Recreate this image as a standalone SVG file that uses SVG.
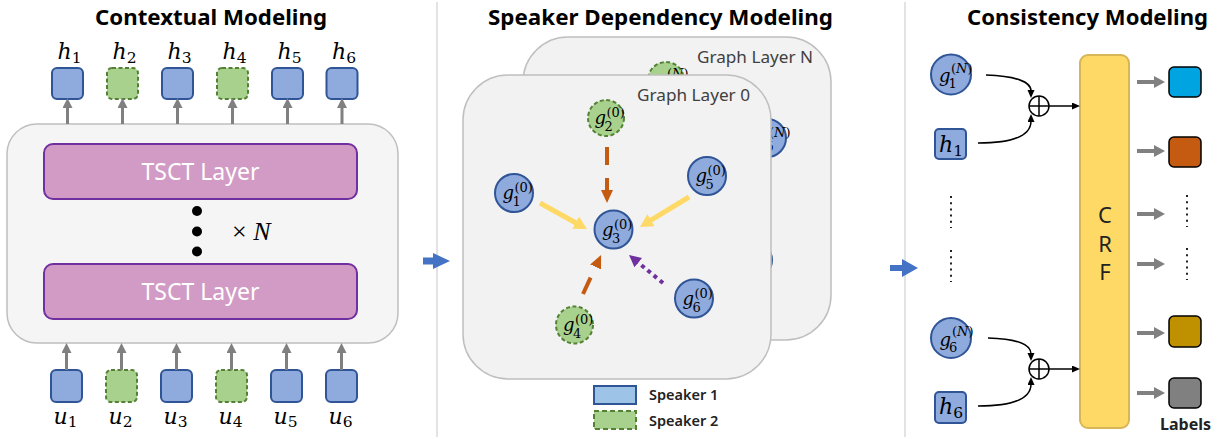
<svg xmlns="http://www.w3.org/2000/svg" width="1222" height="439" viewBox="0 0 1222 439">
<style>
.title{font-family:"Noto Sans","Liberation Sans",sans-serif;font-weight:bold;font-size:21px;fill:#000;text-anchor:middle}
.math{font-family:"DejaVu Serif","Liberation Serif",serif;fill:#000}
.it{font-style:italic}
.blue{fill:#8faadc;stroke:#2f5597;stroke-width:2}
.green{fill:#a9d18e;stroke:#548235;stroke-width:2;stroke-dasharray:4 2.5}
.tsct{fill:#d29bc5;stroke:#7030a0;stroke-width:2}
.tsctt{font-family:"Noto Sans","Liberation Sans",sans-serif;font-size:23px;fill:#fff;text-anchor:middle}
.card{fill:#f2f2f2;stroke:#bfbfbf;stroke-width:1.5}
.cardt{font-family:"Noto Sans","Liberation Sans",sans-serif;font-size:17px;fill:#404040}
.gray{stroke:#808080;stroke-width:3;fill:none}
.div{stroke:#e3e3e3;stroke-width:2}
.leg{font-family:"Noto Sans","Liberation Sans",sans-serif;font-size:14.5px;font-weight:600;fill:#222}
.dots{stroke:#222;stroke-width:2;stroke-dasharray:2 4.2}
.blk{stroke:#000;stroke-width:1.5;fill:none}
.out{stroke:#000;stroke-width:1.5}
.gl{font-size:18px;font-style:italic}
.gs{font-size:13px}
.hl{font-size:22px}
.hs{font-size:15.5px}
</style>
<defs>
<marker id="mGray" markerUnits="userSpaceOnUse" markerWidth="12" markerHeight="12" refX="1" refY="5" orient="auto"><path d="M0,0 L10,5 L0,10 z" fill="#808080"/></marker>
<marker id="mGray2" markerUnits="userSpaceOnUse" markerWidth="13" markerHeight="14" refX="1" refY="6" orient="auto"><path d="M0,0 L11,6 L0,12 z" fill="#808080"/></marker>
<marker id="mYel" markerUnits="userSpaceOnUse" markerWidth="14" markerHeight="15" refX="1" refY="7" orient="auto"><path d="M0,0 L13,7 L0,14 z" fill="#ffd966"/></marker>
<marker id="mOr" markerUnits="userSpaceOnUse" markerWidth="14" markerHeight="13" refX="1" refY="6" orient="auto"><path d="M0,0 L13,6 L0,12 z" fill="#c55a11"/></marker>
<marker id="mPur" markerUnits="userSpaceOnUse" markerWidth="13" markerHeight="13" refX="1" refY="6" orient="auto"><path d="M0,0 L12,6 L0,12 z" fill="#7030a0"/></marker>
<marker id="mBlk" markerUnits="userSpaceOnUse" markerWidth="9" markerHeight="8" refX="1" refY="3.5" orient="auto"><path d="M0,0 L8,3.5 L0,7 z" fill="#000"/></marker>
</defs>
<rect width="1222" height="439" fill="#fff"/>

<!-- dividers -->
<line class="div" x1="437" y1="2" x2="437" y2="437"/>
<line class="div" x1="905" y1="2" x2="905" y2="437"/>

<!-- titles -->
<text class="title" x="211" y="25" textLength="232" lengthAdjust="spacingAndGlyphs">Contextual Modeling</text>
<text class="title" x="660.5" y="25" textLength="345" lengthAdjust="spacingAndGlyphs">Speaker Dependency Modeling</text>
<text class="title" x="1087.5" y="25" textLength="241" lengthAdjust="spacingAndGlyphs">Consistency Modeling</text>

<!-- ===== Contextual Modeling ===== -->
<g id="encoder">
<rect x="7" y="124" width="391" height="219" rx="30" fill="#f5f5f5" stroke="#bfbfbf" stroke-width="1.5"/>
</g>
<g id="tsct-top"><rect class="tsct" x="44" y="144" width="313" height="55" rx="9"/><text class="tsctt" x="200.5" y="180">TSCT Layer</text></g>
<g id="tsct-bottom"><rect class="tsct" x="44" y="264" width="313" height="55" rx="9"/><text class="tsctt" x="200.5" y="300">TSCT Layer</text></g>
<g id="repeat">
<circle cx="197" cy="211" r="5"/><circle cx="197" cy="231.5" r="5"/><circle cx="197" cy="251.5" r="5"/>
<text x="232" y="240" font-family="Liberation Serif,serif" font-size="26">× <tspan font-style="italic">N</tspan></text>
</g>

<g id="h-nodes">
<g id="h1"><rect class="blue" x="52" y="68" width="31" height="31" rx="5"/><text class="math hl" x="57.5" y="59"><tspan class="it">h</tspan><tspan class="hs" dy="4">1</tspan></text></g>
<g id="h2"><rect class="green" x="107" y="68" width="31" height="31" rx="5"/><text class="math hl" x="112.5" y="59"><tspan class="it">h</tspan><tspan class="hs" dy="4">2</tspan></text></g>
<g id="h3"><rect class="blue" x="162" y="68" width="31" height="31" rx="5"/><text class="math hl" x="167.5" y="59"><tspan class="it">h</tspan><tspan class="hs" dy="4">3</tspan></text></g>
<g id="h4"><rect class="green" x="217" y="68" width="31" height="31" rx="5"/><text class="math hl" x="222.5" y="59"><tspan class="it">h</tspan><tspan class="hs" dy="4">4</tspan></text></g>
<g id="h5"><rect class="blue" x="272" y="68" width="31" height="31" rx="5"/><text class="math hl" x="277.5" y="59"><tspan class="it">h</tspan><tspan class="hs" dy="4">5</tspan></text></g>
<g id="h6"><rect class="blue" x="326.5" y="68" width="31" height="31" rx="5"/><text class="math hl" x="332" y="59"><tspan class="it">h</tspan><tspan class="hs" dy="4">6</tspan></text></g>
</g>
<g id="u-nodes">
<g id="u1"><rect class="blue" x="51" y="370" width="31" height="32" rx="5"/><text class="math hl" x="53.5" y="424"><tspan class="it">u</tspan><tspan class="hs" dy="3">1</tspan></text></g>
<g id="u2"><rect class="green" x="106" y="370" width="31" height="32" rx="5"/><text class="math hl" x="108.5" y="424"><tspan class="it">u</tspan><tspan class="hs" dy="3">2</tspan></text></g>
<g id="u3"><rect class="blue" x="161" y="370" width="31" height="32" rx="5"/><text class="math hl" x="163.5" y="424"><tspan class="it">u</tspan><tspan class="hs" dy="3">3</tspan></text></g>
<g id="u4"><rect class="green" x="216" y="370" width="31" height="32" rx="5"/><text class="math hl" x="218.5" y="424"><tspan class="it">u</tspan><tspan class="hs" dy="3">4</tspan></text></g>
<g id="u5"><rect class="blue" x="271" y="370" width="31" height="32" rx="5"/><text class="math hl" x="273.5" y="424"><tspan class="it">u</tspan><tspan class="hs" dy="3">5</tspan></text></g>
<g id="u6"><rect class="blue" x="326" y="370" width="31" height="32" rx="5"/><text class="math hl" x="328.5" y="424"><tspan class="it">u</tspan><tspan class="hs" dy="3">6</tspan></text></g>
</g>

<!-- ===== Speaker Dependency Modeling ===== -->
<g id="graph-layer-N">
<rect class="card" x="523" y="37" width="308" height="303" rx="45"/>
<text class="cardt" x="697" y="63" textLength="116" lengthAdjust="spacingAndGlyphs">Graph Layer N</text>
<circle class="green" cx="666" cy="80" r="18" stroke-width="1.5"/>
<text class="math gs" x="667" y="78">(<tspan class="it">N</tspan>)</text>
<circle class="blue" cx="767" cy="138" r="19" stroke-width="1.5"/>
<text class="math gl" x="756" y="144">g</text><text class="math gs" x="765.5" y="151">5</text>
<text class="math gs" x="769" y="137">(<tspan class="it">N</tspan>)</text>
<circle class="blue" cx="754" cy="260" r="18" stroke-width="1.5"/>
</g>
<g id="graph-layer-0">
<rect class="card" x="463" y="75" width="308" height="304" rx="45"/>
<text class="cardt" x="637" y="101" textLength="113" lengthAdjust="spacingAndGlyphs">Graph Layer 0</text>
</g>

<g id="g-nodes">
<g id="g1"><circle class="blue" cx="514" cy="193" r="19" stroke-width="1.5"/><text class="math gl" x="502.5" y="199">g</text><text class="math gs" x="512.5" y="206">1</text><text class="math gs" x="514.5" y="192">(0)</text></g>
<g id="g2"><circle class="green" cx="606" cy="118" r="18" stroke-width="1.5"/><text class="math gl" x="594.5" y="124">g</text><text class="math gs" x="604.5" y="131">2</text><text class="math gs" x="606.5" y="117">(0)</text></g>
<g id="g3"><circle class="blue" cx="613.5" cy="229.5" r="19" stroke-width="1.5"/><text class="math gl" x="602" y="235.5">g</text><text class="math gs" x="612" y="242.5">3</text><text class="math gs" x="614" y="228.5">(0)</text></g>
<g id="g4"><circle class="green" cx="574.5" cy="325" r="18.5" stroke-width="1.5"/><text class="math gl" x="563" y="331">g</text><text class="math gs" x="573" y="338">4</text><text class="math gs" x="575" y="324">(0)</text></g>
<g id="g5"><circle class="blue" cx="707" cy="176" r="19" stroke-width="1.5"/><text class="math gl" x="695.5" y="182">g</text><text class="math gs" x="705.5" y="189">5</text><text class="math gs" x="707.5" y="175">(0)</text></g>
<g id="g6"><circle class="blue" cx="694" cy="298.5" r="19" stroke-width="1.5"/><text class="math gl" x="682.5" y="304.5">g</text><text class="math gs" x="692.5" y="311.5">6</text><text class="math gs" x="694.5" y="297.5">(0)</text></g>
</g>

<g id="legend">
<rect x="594" y="386" width="42" height="18" fill="#9dc3e6" stroke="#2f5597" stroke-width="2"/>
<text class="leg" x="649" y="400">Speaker 1</text>
<rect x="594" y="411" width="42" height="18" fill="#a9d18e" stroke="#548235" stroke-width="2" stroke-dasharray="5 3"/>
<text class="leg" x="649" y="426">Speaker 2</text>
</g>

<!-- ===== Consistency Modeling ===== -->
<g id="g1N"><circle class="blue" cx="951" cy="74.5" r="20" stroke-width="1.5"/><text class="math gl" x="939" y="82">g</text><text class="math gs" x="948.5" y="88">1</text><text class="math gs" x="951" y="73">(<tspan class="it">N</tspan>)</text></g>
<g id="h1r"><rect class="blue" x="935" y="129" width="31" height="30" rx="4"/><text class="math hl" x="939" y="152"><tspan class="it">h</tspan><tspan class="hs" dy="4">1</tspan></text></g>
<g id="plus1"><circle cx="1039" cy="106" r="10" fill="#fff" stroke="#000" stroke-width="1.5"/><path d="M1029,106 H1049 M1039,96 V116" stroke="#000" stroke-width="1.5"/></g>
<g id="g6N"><circle class="blue" cx="951" cy="338" r="20" stroke-width="1.5"/><text class="math gl" x="939.5" y="346">g</text><text class="math gs" x="949" y="352">6</text><text class="math gs" x="952" y="336">(<tspan class="it">N</tspan>)</text></g>
<g id="h6r"><rect class="blue" x="935" y="392" width="31" height="31" rx="4"/><text class="math hl" x="939" y="414"><tspan class="it">h</tspan><tspan class="hs" dy="4">6</tspan></text></g>
<g id="plus2"><circle cx="1039" cy="369" r="10" fill="#fff" stroke="#000" stroke-width="1.5"/><path d="M1029,369 H1049 M1039,359 V379" stroke="#000" stroke-width="1.5"/></g>
<g id="crf"><rect x="1080" y="55" width="49" height="373" rx="8" fill="#ffd966" stroke="#d6b656" stroke-width="2"/>
<text x="1105" y="223" font-family="Noto Sans,Liberation Sans,sans-serif" font-size="22" fill="#222" text-anchor="middle">C</text>
<text x="1105" y="252" font-family="Noto Sans,Liberation Sans,sans-serif" font-size="22" fill="#222" text-anchor="middle">R</text>
<text x="1105" y="280" font-family="Noto Sans,Liberation Sans,sans-serif" font-size="22" fill="#222" text-anchor="middle">F</text></g>
<g id="labels">
<rect class="out" x="1169" y="67" width="32" height="30" rx="5" fill="#00a4e0"/>
<rect class="out" x="1169" y="137" width="32" height="30" rx="5" fill="#c55a11"/>
<rect class="out" x="1169" y="316" width="32" height="31" rx="5" fill="#bf9000"/>
<rect class="out" x="1169" y="378" width="32" height="30" rx="5" fill="#808080"/>
<text x="1185.5" y="430" font-family="Noto Sans,Liberation Sans,sans-serif" font-size="16" font-weight="bold" fill="#222" text-anchor="middle">Labels</text>
</g>
<g id="ellipsis">
<line class="dots" x1="951" y1="196" x2="951" y2="228"/>
<line class="dots" x1="951" y1="250" x2="951" y2="282"/>
<line class="dots" x1="1187" y1="195" x2="1187" y2="227"/>
<line class="dots" x1="1187" y1="248" x2="1187" y2="280"/>
</g>

<!-- ===== connectors ===== -->
<g id="connectors">
<line class="gray" x1="67.5" y1="124" x2="67.5" y2="107" marker-end="url(#mGray)"/>
<line class="gray" x1="122.5" y1="124" x2="122.5" y2="107" marker-end="url(#mGray)"/>
<line class="gray" x1="177.5" y1="124" x2="177.5" y2="107" marker-end="url(#mGray)"/>
<line class="gray" x1="232.5" y1="124" x2="232.5" y2="107" marker-end="url(#mGray)"/>
<line class="gray" x1="287.5" y1="124" x2="287.5" y2="107" marker-end="url(#mGray)"/>
<line class="gray" x1="342" y1="124" x2="342" y2="107" marker-end="url(#mGray)"/>
<line class="gray" x1="66.5" y1="370" x2="66.5" y2="352" marker-end="url(#mGray)"/>
<line class="gray" x1="121.5" y1="370" x2="121.5" y2="352" marker-end="url(#mGray)"/>
<line class="gray" x1="176.5" y1="370" x2="176.5" y2="352" marker-end="url(#mGray)"/>
<line class="gray" x1="231.5" y1="370" x2="231.5" y2="352" marker-end="url(#mGray)"/>
<line class="gray" x1="286.5" y1="370" x2="286.5" y2="352" marker-end="url(#mGray)"/>
<line class="gray" x1="341.5" y1="370" x2="341.5" y2="352" marker-end="url(#mGray)"/>
<path d="M423,257.5 H433 V253 L450,261 L433,269 V264.5 H423 z" fill="#4472c4"/>
<path d="M890,265 H902 V259 L918,268 L902,277 V271 H890 z" fill="#4472c4"/>
<line x1="607" y1="147" x2="607" y2="191" stroke="#c55a11" stroke-width="4" stroke-dasharray="18 13" marker-end="url(#mOr)"/>
<line x1="583" y1="294" x2="596" y2="266" stroke="#c55a11" stroke-width="4" stroke-dasharray="18 13" marker-end="url(#mOr)"/>
<line x1="540" y1="203" x2="576.5" y2="223.2" stroke="#ffd966" stroke-width="5" marker-end="url(#mYel)"/>
<line x1="689" y1="197" x2="650.2" y2="220.7" stroke="#ffd966" stroke-width="5" marker-end="url(#mYel)"/>
<line x1="663" y1="283" x2="637.5" y2="262" stroke="#7030a0" stroke-width="4" stroke-dasharray="4 4" marker-end="url(#mPur)"/>
<path class="blk" d="M986,75 C1016,76 1031,82 1031,91" marker-end="url(#mBlk)"/>
<path class="blk" d="M978,143 C1016,143 1031,134 1031,121" marker-end="url(#mBlk)"/>
<line class="blk" x1="1049" y1="106" x2="1073" y2="106" marker-end="url(#mBlk)"/>
<path class="blk" d="M988,338 C1018,339 1031,344 1031,354" marker-end="url(#mBlk)"/>
<path class="blk" d="M978,406 C1016,406 1031,397 1031,384" marker-end="url(#mBlk)"/>
<line class="blk" x1="1049" y1="369" x2="1073" y2="369" marker-end="url(#mBlk)"/>
<line x1="1137" y1="82" x2="1155" y2="82" stroke="#808080" stroke-width="4" marker-end="url(#mGray2)"/>
<line x1="1137" y1="151" x2="1155" y2="151" stroke="#808080" stroke-width="4" marker-end="url(#mGray2)"/>
<line x1="1137" y1="214" x2="1155" y2="214" stroke="#808080" stroke-width="4" marker-end="url(#mGray2)"/>
<line x1="1137" y1="264" x2="1155" y2="264" stroke="#808080" stroke-width="4" marker-end="url(#mGray2)"/>
<line x1="1137" y1="333" x2="1155" y2="333" stroke="#808080" stroke-width="4" marker-end="url(#mGray2)"/>
<line x1="1137" y1="393" x2="1155" y2="393" stroke="#808080" stroke-width="4" marker-end="url(#mGray2)"/>
</g>
</svg>
